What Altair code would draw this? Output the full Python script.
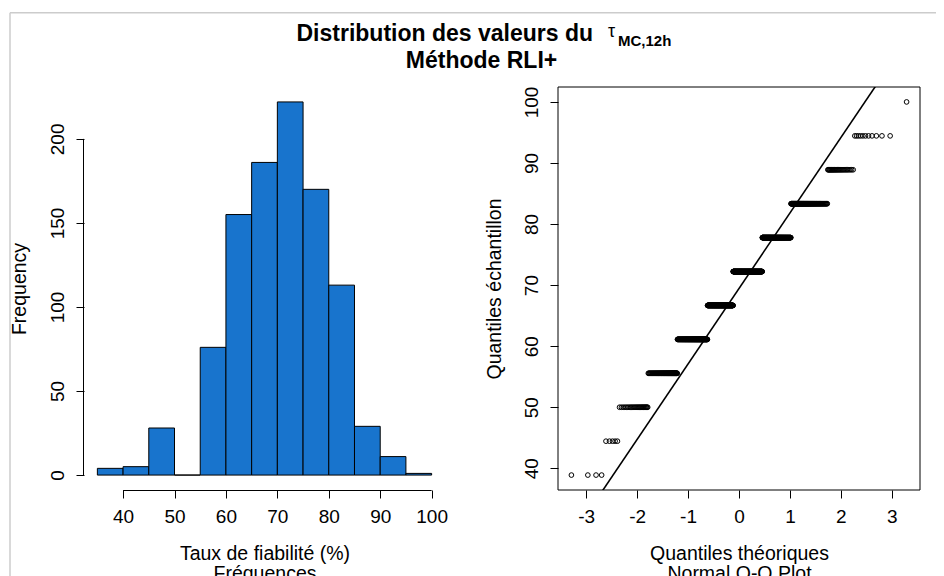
import altair as alt
import numpy as np
import pandas as pd
from statistics import NormalDist

# ---------------- data ----------------
levels = [38.89, 44.44, 50.0, 55.56, 61.11, 66.67, 72.22, 77.78, 83.33, 88.89, 94.44, 100.0]
level_counts = [4, 5, 28, 76, 155, 186, 222, 170, 113, 29, 11, 1]
hist_breaks = [35, 40, 45, 50, 55, 60, 65, 70, 75, 80, 85, 90, 95, 100]
hist_x_ticks = [40, 50, 60, 70, 80, 90, 100]
hist_y_ticks = [0, 50, 100, 150, 200]
qq_x_ticks = [-3, -2, -1, 0, 1, 2, 3]
qq_y_ticks = [40, 50, 60, 70, 80, 90, 100]

title_main = "Distribution des valeurs du"
title_symbol = "τ"
title_sub = "MC,12h"
title_line2 = "Méthode RLI+"
hist_xlab = ["Taux de fiabilité (%)", "Fréquences"]
hist_ylab = "Frequency"
qq_xlab = ["Quantiles théoriques", "Normal Q-Q Plot"]
qq_ylab = "Quantiles échantillon"

# ---------------- layout / style ----------------
FONT = "Liberation Sans"
W, H = 836, 403
HIST_RANGE = [0, 361]
QQ_RANGE = [474, 836]
BAR_COLOR = "#1874CD"

# ---------------- derived tables ----------------
values = np.repeat(np.array(levels, dtype=float), level_counts)
n = len(values)
sample_df = pd.DataFrame({"v": values})

edges = np.array(hist_breaks, dtype=float)
bin_idx = np.searchsorted(edges, values, side="left") - 1  # right-closed bins like R
hist_counts = np.bincount(bin_idx, minlength=len(edges) - 1)
hist_df = pd.DataFrame({"start": edges[:-1], "end": edges[1:],
                        "count": hist_counts, "base": 0})


def ext(lo, hi, f=0.04):
    d = (hi - lo) * f
    return [float(lo - d), float(hi + d)]


nd = NormalDist()
hist_xdom = ext(edges[0], edges[-1])
hist_ydom = ext(0, hist_counts.max())
zmax = nd.inv_cdf(1 - 0.5 / n)
qq_xdom = ext(-zmax, zmax)
qq_ydom = ext(values.min(), values.max())

q1, q3 = np.percentile(values, [25, 75])
slope = (q3 - q1) / (nd.inv_cdf(0.75) - nd.inv_cdf(0.25))
icpt = q1 - slope * nd.inv_cdf(0.25)
line_df = pd.DataFrame({"z": [-5.0, 5.0]})
line_df["v"] = icpt + slope * line_df["z"]

# ---------------- scales & axes ----------------
hx = alt.Scale(domain=hist_xdom, range=HIST_RANGE, nice=False, zero=False)
hy = alt.Scale(domain=hist_ydom, nice=False, zero=False)
qx = alt.Scale(domain=qq_xdom, range=QQ_RANGE, nice=False, zero=False)
qy = alt.Scale(domain=qq_ydom, nice=False, zero=False)

common = dict(grid=False, labelFont=FONT, labelFontSize=19, labelColor="black",
              tickColor="black", tickSize=8, tickWidth=1, titleFont=FONT,
              titleFontSize=19.5, titleFontWeight="normal", titleColor="black",
              labelOverlap=False, labelFlush=False, labelExpr="'' + datum.value")
bottom = dict(orient="bottom", labelPadding=9, labelAngle=0, labelAlign="center",
              labelBaseline="top", titleAngle=0, titleAlign="center",
              titleBaseline="alphabetic", titleLineHeight=20, titleY=69)
left = dict(orient="left", labelPadding=12.5, labelAngle=270, labelAlign="center",
            labelBaseline="alphabetic", titleAngle=270, titleAlign="center",
            titleBaseline="alphabetic", titleY=H / 2)

hist_x_axis = alt.Axis(values=hist_x_ticks, domain=False, title=hist_xlab,
                       titleX=(HIST_RANGE[0] + HIST_RANGE[1]) / 2, **common, **bottom)
hist_y_axis = alt.Axis(values=hist_y_ticks, domain=False, title=hist_ylab,
                       titleX=-58.5, **common, **left)
qq_x_axis = alt.Axis(values=qq_x_ticks, domain=False, title=qq_xlab,
                     titleX=(QQ_RANGE[0] + QQ_RANGE[1]) / 2, **common, **bottom)
qq_y_axis = alt.Axis(values=qq_y_ticks, domain=False, title=qq_ylab,
                     titleX=-58, offset=-QQ_RANGE[0], **common, **left)

# ---------------- histogram panel ----------------
bars = alt.Chart(hist_df).mark_bar(color=BAR_COLOR, stroke="black", strokeWidth=1).encode(
    x=alt.X("start:Q", scale=hx, axis=hist_x_axis),
    x2="end:Q",
    y=alt.Y("count:Q", scale=hy, axis=hist_y_axis),
    y2="base:Q",
)

axis_df = pd.DataFrame({"x0": [hist_x_ticks[0]], "x1": [hist_x_ticks[-1]],
                        "y0": [hist_y_ticks[0]], "y1": [hist_y_ticks[-1]]})
xline = alt.Chart(axis_df).mark_rule(color="black", strokeWidth=1).encode(
    x=alt.X("x0:Q", scale=hx, axis=None), x2="x1:Q", y=alt.value(H + 0.5))
yline = alt.Chart(axis_df).mark_rule(color="black", strokeWidth=1).encode(
    y=alt.Y("y0:Q", scale=hy, axis=None), y2="y1:Q", x=alt.value(-0.5))

one = pd.DataFrame({"a": [0]})
frame_top = alt.Chart(one).mark_rule(color="#cccccc", strokeWidth=1.5).encode(
    x=alt.value(-74), x2=alt.value(880), y=alt.value(-74.3))
frame_left = alt.Chart(one).mark_rule(color="#cccccc", strokeWidth=1.5).encode(
    x=alt.value(-74), y=alt.value(-74.3), y2=alt.value(520))


def label(txt, x, y, size, weight, align):
    return alt.Chart(pd.DataFrame({"t": [txt]})).mark_text(
        font=FONT, fontSize=size, fontWeight=weight, align=align,
        baseline="alphabetic", color="black").encode(
        x=alt.value(x), y=alt.value(y), text="t:N")


t1 = label(title_main, 509, -46, 23, "bold", "right")
t2 = label(title_symbol, 524, -50.3, 18, "normal", "left")
t3 = label(title_sub, 534, -41.3, 15, "bold", "left")
t4 = label(title_line2, 397.5, -18.7, 23, "bold", "center")

# ---------------- Q-Q panel ----------------
pts = alt.Chart(sample_df).transform_window(
    rank="row_number()", sort=[alt.SortField("v", order="ascending")]
).transform_joinaggregate(
    n="count()"
).transform_calculate(
    z="quantileNormal((datum.rank - 0.5) / datum.n)"
).mark_point(shape="circle", filled=False, size=22, strokeWidth=1,
             color="black", opacity=1).encode(
    x=alt.X("z:Q", scale=qx, axis=qq_x_axis),
    y=alt.Y("v:Q", scale=qy, axis=qq_y_axis),
)

qline = alt.Chart(line_df).mark_line(color="black", strokeWidth=1.6, clip=True).encode(
    x=alt.X("z:Q", scale=qx, axis=None),
    y=alt.Y("v:Q", scale=qy, axis=None),
)

box_df = pd.DataFrame({"x0": [qq_xdom[0]], "x1": [qq_xdom[1]],
                       "y0": [qq_ydom[0]], "y1": [qq_ydom[1]]})
box = alt.Chart(box_df).mark_rect(fillOpacity=0, stroke="black", strokeWidth=1).encode(
    x=alt.X("x0:Q", scale=qx, axis=None), x2="x1:Q",
    y=alt.Y("y0:Q", scale=qy, axis=None), y2="y1:Q",
)

chart = alt.layer(
    bars, xline, yline, pts, qline, box,
    frame_top, frame_left, t1, t2, t3, t4,
).resolve_scale(
    x="independent", y="independent"
).properties(
    width=W, height=H,
    autosize=alt.AutoSizeParams(type="none"),
    padding={"left": 76, "top": 79, "right": 16, "bottom": 86},
    background="white",
).configure_view(stroke=None)

chart.save("out.html", embed_options={"renderer": "svg", "actions": False})
